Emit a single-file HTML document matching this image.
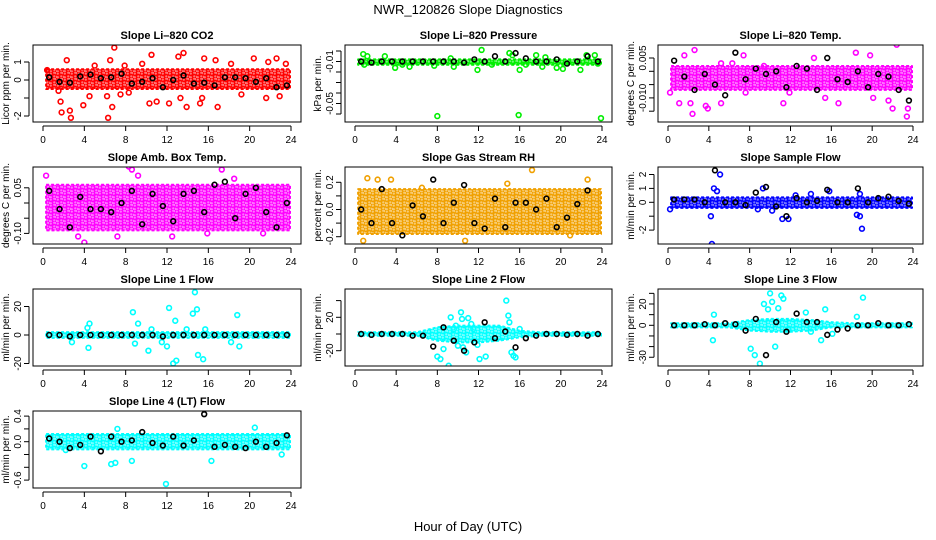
<!DOCTYPE html>
<html><head><meta charset="utf-8"><style>
html,body{margin:0;padding:0;background:#fff}
svg{display:block;font-family:"Liberation Sans",Arial,sans-serif}
</style></head><body>
<svg id="chart" width="936" height="540" viewBox="0 0 936 540" xmlns="http://www.w3.org/2000/svg">
<defs id="defs"></defs>
<text x="468" y="14" text-anchor="middle" font-size="13">NWR_120826  Slope Diagnostics</text>
<text x="468" y="531" text-anchor="middle" font-size="13">Hour of Day (UTC)</text>
</svg>
<script>
const xTicks = [0,4,8,12,16,20,24];
const bandHours = [0.3,2,4,6,8,10,12,14,16,18,20,22,23.9];
const blackHours = [0.6,1.6,2.6,3.6,4.6,5.6,6.6,7.6,8.6,9.6,10.6,11.6,12.6,13.6,14.6,15.6,16.6,17.6,18.6,19.6,20.6,21.6,22.6,23.6];

const co2BandLo = [-0.5,-0.5,-0.5,-0.5,-0.5,-0.5,-0.5,-0.5,-0.5,-0.5,-0.5,-0.5,-0.5];
const co2BandHi = [0.6,0.6,0.6,0.6,0.6,0.6,0.6,0.6,0.6,0.6,0.6,0.6,0.6];
const co2Out = [[0.4,0.55],[1.5,-0.6],[1.7,-1.2],[1.8,-1.8],[2.3,1.1],[2.6,-1.7],[2.7,-2.1],[3.9,-1.4],[4.5,-0.9],[5.0,0.8],[6.2,-0.9],[6.3,-2.1],[6.5,1.1],[6.7,-1.5],[6.9,1.8],[7.5,-0.8],[7.9,0.8],[8.3,-0.7],[9.6,0.9],[10.3,-1.3],[10.5,1.4],[11.0,-1.2],[12.2,-1.3],[13.1,1.3],[13.6,1.5],[13.3,-1.0],[13.9,-1.5],[15.2,-1.3],[15.4,-1.0],[15.6,1.2],[16.9,-1.5],[16.7,1.1],[18.2,0.9],[19.2,-0.8],[20.4,1.2],[21.6,-1.0],[21.8,1.0],[22.6,1.2],[22.9,-0.9],[23.5,0.9]];
const co2Black = [0.15,-0.1,-0.15,0.2,0.3,0.1,0.15,0.35,-0.2,-0.1,0.1,-0.4,0.0,0.25,-0.2,-0.15,-0.3,0.15,0.15,0.1,-0.1,0.1,-0.4,-0.3];

const presBandLo = [-0.013,-0.013,-0.013,-0.013,-0.013,-0.013,-0.013,-0.013,-0.013,-0.013,-0.013,-0.013,-0.013];
const presBandHi = [-0.008,-0.008,-0.008,-0.008,-0.008,-0.008,-0.008,-0.008,-0.008,-0.008,-0.008,-0.008,-0.008];
const presOut = [[0.8,-0.003],[0.9,-0.013],[1.2,-0.005],[2.9,-0.005],[3.9,-0.016],[4.6,-0.013],[5.3,-0.015],[7.7,-0.014],[8.0,-0.062],[9.3,-0.007],[9.6,-0.015],[11.9,-0.018],[12.3,0.001],[13.3,-0.013],[15.0,-0.002],[15.3,-0.004],[16.0,-0.018],[15.9,-0.061],[16.6,-0.013],[17.6,-0.004],[18.2,-0.015],[18.5,-0.006],[19.6,-0.016],[20.2,-0.017],[21.9,-0.018],[22.5,-0.004],[23.3,-0.004],[23.6,-0.012],[23.9,-0.064]];
const presBlack = [-0.01,-0.011,-0.01,-0.01,-0.01,-0.01,-0.01,-0.01,-0.01,-0.01,-0.011,-0.008,-0.01,-0.005,-0.01,-0.002,-0.007,-0.01,-0.01,-0.008,-0.012,-0.01,-0.005,-0.01];

const tempBandLo = [-0.007,-0.007,-0.007,-0.007,-0.007,-0.007,-0.007,-0.007,-0.007,-0.007,-0.007,-0.007,-0.007];
const tempBandHi = [0.002,0.002,0.002,0.002,0.002,0.002,0.002,0.002,0.002,0.002,0.002,0.002,0.002];
const tempOut = [[0.2,-0.008],[1.1,-0.012],[1.6,0.006],[2.2,-0.012],[2.4,-0.016],[2.6,0.008],[3.7,-0.013],[3.9,-0.014],[5.2,0.003],[5.2,-0.012],[6.3,0.003],[7.6,-0.008],[7.4,0.006],[9.4,0.002],[11.3,-0.012],[11.9,-0.008],[14.3,0.005],[15.4,-0.010],[16.7,-0.012],[18.4,0.007],[19.8,0.006],[20.1,-0.010],[21.6,-0.011],[22.0,-0.014],[22.4,0.010],[22.5,0.011],[23.4,-0.017],[23.5,-0.014]];
const tempBlack = [0.004,-0.002,-0.007,-0.001,-0.005,-0.009,0.007,-0.003,0.001,-0.001,0.0,-0.006,0.002,0.001,-0.007,0.005,-0.003,-0.004,0.0,-0.006,-0.001,-0.002,-0.007,-0.011];

const ambBandLo = [-0.09,-0.09,-0.09,-0.09,-0.09,-0.09,-0.09,-0.09,-0.09,-0.09,-0.09,-0.09,-0.09];
const ambBandHi = [0.06,0.06,0.06,0.06,0.06,0.06,0.06,0.06,0.06,0.06,0.06,0.06,0.06];
const ambOut = [[0.3,0.09],[4.0,-0.13],[8.3,0.12],[8.6,0.11],[17.3,0.11],[3.4,-0.11],[7.2,-0.11],[12.5,-0.11],[15.9,-0.10],[18.5,0.08],[21.3,-0.10],[9.2,0.09]];
const ambBlack = [0.04,-0.02,-0.08,0.02,-0.02,-0.02,-0.03,0.0,0.04,-0.07,0.03,-0.01,-0.06,0.03,0.04,-0.03,0.06,0.07,-0.05,0.03,0.05,-0.03,-0.08,0.0];

const rhBandLo = [-0.18,-0.18,-0.18,-0.18,-0.18,-0.18,-0.18,-0.18,-0.18,-0.18,-0.18,-0.18,-0.18];
const rhBandHi = [0.15,0.15,0.15,0.15,0.15,0.15,0.15,0.15,0.15,0.15,0.15,0.15,0.15];
const rhOut = [[0.8,-0.23],[1.2,0.23],[2.2,0.22],[3.5,0.22],[10.7,-0.23],[17.2,0.29],[22.6,0.22],[14.8,0.19],[20.9,-0.19],[6.5,0.16]];
const rhBlack = [0.0,-0.1,0.15,-0.1,-0.19,0.03,-0.05,0.22,-0.1,0.05,0.18,-0.1,-0.14,0.08,-0.13,0.05,0.05,0.0,0.08,-0.13,-0.06,0.04,0.14,-0.29];

const sfBandLo = [-0.4,-0.4,-0.4,-0.4,-0.4,-0.4,-0.4,-0.4,-0.4,-0.4,-0.4,-0.4,-0.4];
const sfBandHi = [0.35,0.35,0.35,0.35,0.35,0.35,0.35,0.35,0.35,0.35,0.35,0.35,0.35];
const sfOut = [[0.2,-0.5],[4.2,-1.0],[4.3,-3.0],[4.5,1.0],[4.8,0.8],[5.1,2.0],[8.8,-0.5],[9.3,1.0],[10.2,-0.6],[11.2,-1.2],[11.8,-1.2],[12.5,0.5],[14.0,0.6],[15.8,0.8],[18.8,0.6],[18.8,-1.0],[19.0,-1.9],[18.5,-0.9]];
const sfBlack = [0.2,0.2,0.2,0.0,2.3,0.0,0.0,-0.2,0.7,1.1,-0.3,-1.0,0.3,0.0,0.1,0.9,0.0,0.0,1.0,0.0,0.3,0.4,0.1,-0.1];

const l1BandLo = [-2,-2,-2,-2,-2,-2,-2,-2,-2,-2,-2,-2,-2];
const l1BandHi = [2,2,2,2,2,2,2,2,2,2,2,2,2];
const l1Out = [[2.8,-5],[4.3,5],[4.5,8],[4.4,-9],[8.7,16],[8.9,-6],[9.2,8],[10.2,-11],[11.5,-5],[12.0,-8],[12.2,19],[12.6,-20],[12.9,-18],[12.8,10],[14.5,15],[14.7,30],[14.9,18],[15.0,-14],[15.5,-17],[15.7,4],[18.2,-5],[18.8,14],[19.0,-8],[10.5,4],[13.9,4]];
const l1Black = [0,0,-1,0,0,0,0,0,0,0,0,-1,0,0,0,0,0,0,0,0,0,0,0,0];

const l2BandLo = [-2,-2,-2,-2,-8,-10,-10,-8,-4,-2,-2,-2,-2];
const l2BandHi = [2,2,2,2,8,10,10,10,4,2,2,2,2];
const l2Out = [[8.0,-27],[8.3,-30],[8.6,-18],[9.1,-38],[9.3,20],[9.6,6],[10.0,-14],[10.3,26],[10.4,18],[10.5,-16],[11.0,19],[11.3,12],[11.5,6],[11.9,-13],[12.1,-30],[12.7,-27],[14.7,40],[14.9,22],[15.0,14],[15.2,-22],[15.4,-26],[15.6,-28],[16.0,6],[10.8,-22],[9.8,10]];
const l2Black = [0,-1,0,0,0,-2,-2,-15,8,-8,-20,-10,14,-5,3,-16,-5,-2,0,0,-1,0,-2,0];

const l3BandLo = [-2,-2,-2,-2,-5,-6,-6,-5,-2,-2,-2,-2,-2];
const l3BandHi = [2,2,2,2,5,6,6,5,3,2,2,2,2];
const l3Out = [[4.4,-14],[4.5,10],[8.1,-22],[8.5,-28],[9.0,-36],[9.4,20],[9.8,15],[10.0,30],[10.2,22],[10.5,-20],[10.8,16],[11.1,28],[11.3,25],[11.8,-4],[13.5,12],[14.0,-6],[15.0,-14],[15.4,15],[19.1,26],[18.5,8],[16.1,-8]];
const l3Black = [0,0,0,1,0,2,1,-5,6,-28,3,-6,11,3,3,-9,-4,-3,0,0,2,0,0,1];

const l4BandLo = [-0.12,-0.12,-0.12,-0.12,-0.12,-0.12,-0.12,-0.12,-0.12,-0.12,-0.12,-0.12,-0.12];
const l4BandHi = [0.12,0.12,0.12,0.12,0.12,0.12,0.12,0.12,0.12,0.12,0.12,0.12,0.12];
const l4Out = [[4.0,-0.38],[6.6,-0.35],[7.0,-0.33],[7.2,0.2],[8.6,-0.3],[11.9,-0.66],[16.3,-0.3],[19.8,-0.9],[20.5,0.22],[23.1,-0.2],[2.2,-0.13]];
const l4Black = [0.05,0.0,-0.1,-0.05,0.08,-0.15,0.08,0.0,0.02,0.15,-0.02,-0.06,0.08,-0.06,0.02,0.43,-0.08,-0.05,-0.08,-0.1,0.0,-0.08,-0.02,0.1];

const yTicksCO2=[-2,-1,0,1], yLabCO2=["-2","","0","1"];
const yTicksPres=[-0.06,-0.05,-0.04,-0.03,-0.02,-0.01,0], yLabPres=["","-0.05","","","","-0.01",""];
const yTicksTemp=[-0.015,-0.01,-0.005,0,0.005], yLabTemp=["","-0.010","","","0.005"];
const yTicksAmb=[-0.1,-0.05,0,0.05], yLabAmb=["-0.10","","","0.05"];
const yTicksRH=[-0.2,-0.1,0,0.1,0.2], yLabRH=["-0.2","","0.0","","0.2"];
const yTicksSF=[-2,-1,0,1,2], yLabSF=["-2","","0","1","2"];
const yTicksL1=[-20,0,20], yLabL1=["-20","0","20"];
const yTicksL2=[-20,0,20,40], yLabL2=["-20","","20",""];
const yTicksL3=[-30,-20,-10,0,10,20,30], yLabL3=["-30","","","0","","20",""];
const yTicksL4=[-0.6,-0.4,-0.2,0,0.2,0.4], yLabL4=["-0.6","","","0.0","","0.4"];

const panels = [
 {name:"li820-co2",title:"Slope Li\u2013820 CO2",ylab:"Licor ppm per min.",col:0,row:0,y0:80,k:18,color:"#ff0000",lo:co2BandLo,hi:co2BandHi,out:co2Out,blk:co2Black,t:yTicksCO2,tl:yLabCO2},
 {name:"li820-pressure",title:"Slope Li\u2013820 Pressure",ylab:"kPa per min.",col:1,row:0,y0:51,k:1050,color:"#00ee00",lo:presBandLo,hi:presBandHi,out:presOut,blk:presBlack,t:yTicksPres,tl:yLabPres},
 {name:"li820-temp",title:"Slope Li\u2013820 Temp.",ylab:"degrees C per min.",col:2,row:0,y0:71.3,k:2660,color:"#ff00ff",lo:tempBandLo,hi:tempBandHi,out:tempOut,blk:tempBlack,t:yTicksTemp,tl:yLabTemp},
 {name:"amb-box-temp",title:"Slope Amb. Box Temp.",ylab:"degrees C per min.",col:0,row:1,y0:203,k:304,color:"#ff00ff",lo:ambBandLo,hi:ambBandHi,out:ambOut,blk:ambBlack,t:yTicksAmb,tl:yLabAmb},
 {name:"gas-stream-rh",title:"Slope Gas Stream RH",ylab:"percent per min.",col:1,row:1,y0:209.5,k:136,color:"#f0a000",lo:rhBandLo,hi:rhBandHi,out:rhOut,blk:rhBlack,t:yTicksRH,tl:yLabRH},
 {name:"sample-flow",title:"Slope Sample Flow",ylab:"ml/min per min.",col:2,row:1,y0:202.3,k:13.9,color:"#0000ff",lo:sfBandLo,hi:sfBandHi,out:sfOut,blk:sfBlack,t:yTicksSF,tl:yLabSF},
 {name:"line1-flow",title:"Slope Line 1 Flow",ylab:"ml/min per min.",col:0,row:2,y0:335,k:1.425,color:"#00ffff",lo:l1BandLo,hi:l1BandHi,out:l1Out,blk:l1Black,t:yTicksL1,tl:yLabL1},
 {name:"line2-flow",title:"Slope Line 2 Flow",ylab:"ml/min per min.",col:1,row:2,y0:334,k:0.835,color:"#00ffff",lo:l2BandLo,hi:l2BandHi,out:l2Out,blk:l2Black,t:yTicksL2,tl:yLabL2},
 {name:"line3-flow",title:"Slope Line 3 Flow",ylab:"ml/min per min.",col:2,row:2,y0:325.3,k:1.065,color:"#00ffff",lo:l3BandLo,hi:l3BandHi,out:l3Out,blk:l3Black,t:yTicksL3,tl:yLabL3},
 {name:"line4-lt-flow",title:"Slope Line 4 (LT) Flow",ylab:"ml/min per min.",col:0,row:3,y0:441.7,k:64,color:"#00ffff",lo:l4BandLo,hi:l4BandHi,out:l4Out,blk:l4Black,t:yTicksL4,tl:yLabL4}
];
const colL=[33,345,658], colW=[268,267,265], rowT=[45,167,289,411], H=77;
const NS="http://www.w3.org/2000/svg";
const svg=document.getElementById('chart');
const defs=document.getElementById('defs');
function mk(tag,attrs,parent){const e=document.createElementNS(NS,tag);for(const k in attrs)e.setAttribute(k,attrs[k]);(parent||svg).appendChild(e);return e;}

const patMade={};
function pattern(color){
  const id='pat'+color.replace('#','');
  if(patMade[id])return id;
  patMade[id]=1;
  const p=mk('pattern',{id:id,patternUnits:'userSpaceOnUse',width:7,height:6},defs);
  mk('rect',{x:0,y:0,width:7,height:6,fill:color,'fill-opacity':0.55},p);
  mk('circle',{cx:1.8,cy:1.6,r:1.9,fill:'none',stroke:color,'stroke-width':1.5},p);
  mk('circle',{cx:5.3,cy:4.4,r:1.9,fill:'none',stroke:color,'stroke-width':1.5},p);
  return id;
}

panels.forEach(p=>{
  const L=colL[p.col], W=colW[p.col], T=rowT[p.row];
  const xs=h=>L+10+h*(W-20)/24;
  const ys=v=>p.y0-v*p.k;
  const g=mk('g',{});
  
  
  const cid='clip-'+p.name;
  const cp=mk('clipPath',{id:cid},g); mk('rect',{x:L,y:T,width:W,height:H},cp);
  const plot=mk('g',{'clip-path':'url(#'+cid+')'},g);
  let d='';
  bandHours.forEach((h,i)=>{d+=(i?'L':'M')+xs(h).toFixed(1)+','+ys(p.hi[i]).toFixed(1);});
  for(let i=bandHours.length-1;i>=0;i--) d+='L'+xs(bandHours[i]).toFixed(1)+','+ys(p.lo[i]).toFixed(1);
  const band=mk('path',{d:d+'Z',fill:'url(#'+pattern(p.color)+')',stroke:p.color,'stroke-width':2,'stroke-dasharray':'3 2','stroke-linejoin':'round'},plot);
  
  
  p.out.forEach(pt=>{
    const c=mk('circle',{cx:xs(pt[0]),cy:ys(pt[1]),r:2.4,fill:'none',stroke:p.color,'stroke-width':1.6},plot);
    
    
  });
  blackHours.forEach((h,i)=>{
    const c=mk('circle',{cx:xs(h),cy:ys(p.blk[i]),r:2.4,fill:'none',stroke:'#000','stroke-width':1.6},plot);
    
    
  });
  const box=mk('rect',{x:L,y:T,width:W,height:H,fill:'none',stroke:'#000','stroke-width':1},g);
  
  
  const tt=mk('text',{x:L+W/2,y:T-6,'text-anchor':'middle','font-size':11,'font-weight':'bold'},g);
  tt.textContent=p.title;
  
  
  const B=T+H;
  mk('line',{x1:xs(0),x2:xs(24),y1:B+4,y2:B+4,stroke:'#000'},g);
  xTicks.forEach(h=>{
    mk('line',{x1:xs(h),x2:xs(h),y1:B+4,y2:B+9,stroke:'#000'},g);
    const t=mk('text',{x:xs(h),y:B+21,'text-anchor':'middle','font-size':10},g);
    t.textContent=h;
    
    
  });
  const yv=p.t.map(ys);
  mk('line',{x1:L-4,x2:L-4,y1:Math.min(...yv),y2:Math.max(...yv),stroke:'#000'},g);
  p.t.forEach((v,i)=>{
    const y=ys(v);
    mk('line',{x1:L-9,x2:L-4,y1:y,y2:y,stroke:'#000'},g);
    if(p.tl[i]){
      const t=mk('text',{x:L-12,y:y,'text-anchor':'middle','font-size':10,transform:'rotate(-90 '+(L-12)+' '+y+')'},g);
      t.textContent=p.tl[i];
      
      
    }
  });
  const yl=mk('text',{x:L-24,y:T+H/2,'text-anchor':'middle','font-size':10,transform:'rotate(-90 '+(L-24)+' '+(T+H/2)+')'},g);
  yl.textContent=p.ylab;
  
  
});
</script>
</body></html>
